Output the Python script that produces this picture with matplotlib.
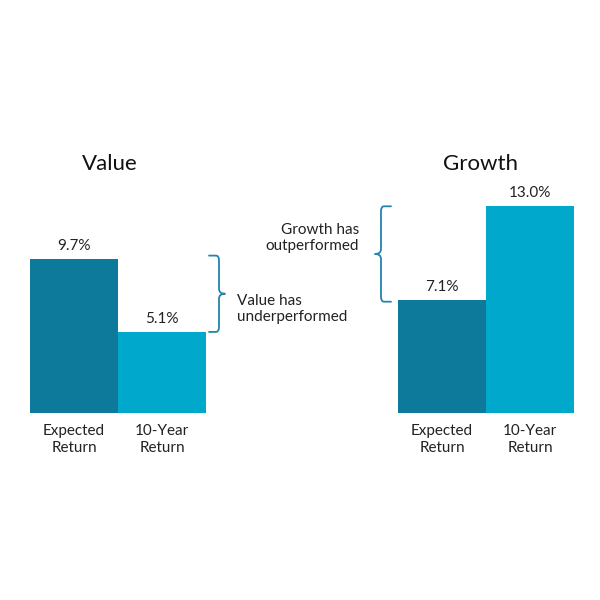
import matplotlib.pyplot as plt
from matplotlib.path import Path
from matplotlib.patches import PathPatch

plt.rcParams['font.family'] = ['Lato', 'DejaVu Sans']

groups = ["Value", "Growth"]
categories = ["Expected\nReturn", "10-Year\nReturn"]
value_returns = [9.7, 5.1]
growth_returns = [7.1, 13.0]
notes = ["Value has\nunderperformed", "Growth has\noutperformed"]

DARK = "#0e7a9b"
LIGHT = "#00a9cc"
BRACE = "#2384ad"

# layout in pixels (600x600 canvas, y measured from top)
BASE_PX = 413
PX_PER_PCT = 15.9
BAR_W = 88


def y_of(py):
    return (BASE_PX - py) / PX_PER_PCT


def brace(ax, x, y_top, y_bot, facing, arm=10, tip=6):
    # curly bracket; x in pixels, y in data units
    r = 5 / PX_PER_PCT
    mid = (y_top + y_bot) / 2
    s = facing
    verts = [(x - s * arm, y_top), (x - s * 3, y_top), (x, y_top), (x, y_top - r),
             (x, mid + r), (x, mid), (x + s * tip, mid),
             (x, mid), (x, mid - r),
             (x, y_bot + r), (x, y_bot), (x - s * 3, y_bot),
             (x - s * arm, y_bot)]
    codes = [Path.MOVETO, Path.LINETO, Path.CURVE3, Path.CURVE3,
             Path.LINETO, Path.CURVE3, Path.CURVE3,
             Path.CURVE3, Path.CURVE3,
             Path.LINETO, Path.CURVE3, Path.CURVE3,
             Path.LINETO]
    ax.add_patch(PathPatch(Path(verts, codes), fill=False, edgecolor=BRACE,
                           linewidth=1.3, capstyle='round', joinstyle='round'))


fig = plt.figure(figsize=(6, 6), dpi=100)
ax = fig.add_axes([0, 0, 1, 1])
ax.set_xlim(0, 600)
ax.set_ylim(y_of(600), y_of(0))
ax.axis('off')

lefts = [30, 398]
title_x = [110, 480]
for g, (name, vals, left, tx) in enumerate(zip(groups, [value_returns, growth_returns], lefts, title_x)):
    xs = [left + BAR_W / 2, left + BAR_W * 1.5]
    ax.bar(xs, vals, width=BAR_W, color=[DARK, LIGHT], linewidth=0)
    for x, v, cat in zip(xs, vals, categories):
        ax.annotate(f"{v:.1f}%", (x, v), xytext=(0, 6.5), textcoords='offset points',
                    ha='center', va='baseline', fontsize=11, color='#222222')
        ax.text(x, y_of(424), cat, ha='center', va='top', fontsize=11,
                color='#222222', linespacing=1.25)
    ax.text(tx, y_of(170), name, ha='center', va='baseline', fontsize=16, color='#111111')

# Value brace: spans expected -> 10-year, opens right
brace(ax, 219, value_returns[0] + 0.2, value_returns[1], facing=1)
ax.text(237, y_of(309), notes[0], ha='left', va='center', fontsize=11,
        color='#222222', linespacing=1.25)

# Growth brace: spans 10-year -> expected, opens left
brace(ax, 381, growth_returns[1], growth_returns[0] - 0.1, facing=-1)
ax.text(359, y_of(238), notes[1], ha='right', va='center', fontsize=11,
        color='#222222', linespacing=1.25)

fig.savefig("out.png", dpi=100, facecolor='white')
